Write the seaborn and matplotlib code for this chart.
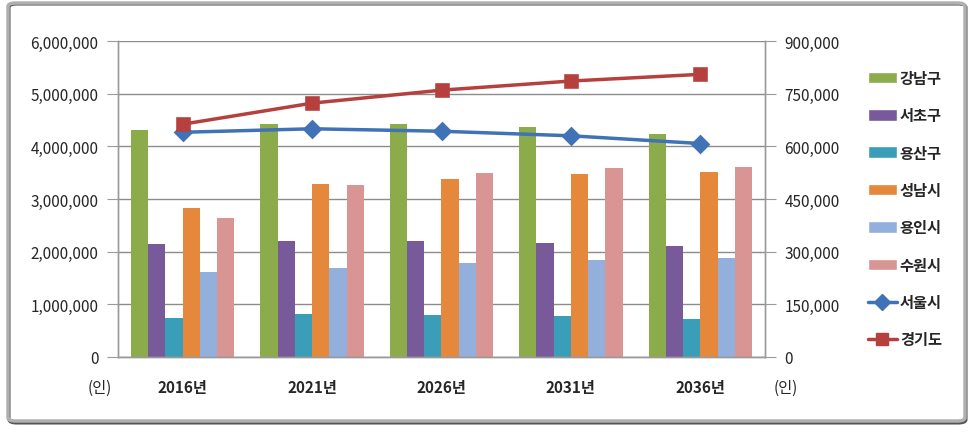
import numpy as np
import pandas as pd
import matplotlib
matplotlib.use("Agg")
import matplotlib.pyplot as plt
from matplotlib.patches import Patch, FancyBboxPatch
from matplotlib.lines import Line2D
from matplotlib.ticker import FuncFormatter
import seaborn as sns

# 데이터
years = ["2016년", "2021년", "2026년", "2031년", "2036년"]
bar_names = ["강남구", "서초구", "용산구", "성남시", "용인시", "수원시"]
gangnam = [4310000, 4430000, 4430000, 4370000, 4230000]
seocho = [2150000, 2210000, 2210000, 2170000, 2110000]
yongsan = [746000, 810000, 790000, 770000, 730000]
seongnam = [2830000, 3280000, 3380000, 3470000, 3510000]
yongin = [1610000, 1690000, 1780000, 1840000, 1880000]
suwon = [2640000, 3260000, 3490000, 3580000, 3610000]
line_names = ["서울시", "경기도"]
seoul = [640000, 650000, 643000, 630000, 608000]
gyeonggi = [663000, 723000, 760000, 786000, 805000]

bar_colors = ["#8CAB4B", "#78599A", "#3A9EB8", "#E6883C", "#93AFDB", "#D99494"]
line_colors = ["#3F72B6", "#B5403D"]

sns.set_style("white")
plt.rcParams["font.family"] = ["Noto Sans CJK KR", "DejaVu Sans"]

bars = pd.DataFrame({
    "year": years * 6,
    "name": np.repeat(bar_names, 5),
    "value": gangnam + seocho + yongsan + seongnam + yongin + suwon,
})
lines = pd.DataFrame({
    "year": years * 2,
    "name": np.repeat(line_names, 5),
    "value": seoul + gyeonggi,
})

fig = plt.figure(figsize=(9.74, 4.35), dpi=100)
ax = fig.add_axes([118 / 974, 77 / 435, 647 / 974, 316 / 435])

sns.barplot(data=bars, x="year", y="value", hue="name", palette=bar_colors,
            width=0.8, saturation=1, legend=False, linewidth=0, ax=ax)
ax.set_ylim(0, 6000000)
ax.set_yticks(np.arange(0, 6000001, 1000000))
ax.yaxis.set_major_formatter(FuncFormatter(lambda v, p: f"{int(v):,}"))
ax.yaxis.grid(True, color="#8c8c8c", lw=1)
ax.set_axisbelow(True)
ax.set_xlabel("")
ax.set_ylabel("")

ax2 = ax.twinx()
sns.pointplot(data=lines, x="year", y="value", hue="name", palette=line_colors,
              markers=["D", "s"], linestyles=["-", "-"], markersize=8,
              linewidth=2.5, legend=False, errorbar=None, ax=ax2)
ax2.set_ylim(0, 900000)
ax2.set_yticks(np.arange(0, 900001, 150000))
ax2.yaxis.set_major_formatter(FuncFormatter(lambda v, p: f"{int(v):,}"))
ax2.set_ylabel("")
ax2.set_xlabel("")

for a in (ax, ax2):
    a.set_xlim(-0.5, 4.5)
    for s in a.spines.values():
        s.set_color("#9a9a9a")
        s.set_linewidth(1)
    a.spines["top"].set_visible(False)

ax.set_xticks(np.arange(-0.5, 5, 1), minor=True)
ax.tick_params(axis="x", which="major", length=0, pad=16, labelsize=11)
ax.tick_params(axis="x", which="minor", length=6, color="#9a9a9a", direction="out")
ax.tick_params(axis="y", length=8, color="#9a9a9a", direction="out", labelsize=11, pad=6)
ax2.tick_params(axis="y", length=8, color="#9a9a9a", direction="out", labelsize=11, pad=6)
for t in ax.get_xticklabels():
    t.set_fontweight("bold")

fig.text(100 / 974, 1 - 388 / 435, "(인)", ha="center", va="center", fontsize=11)
fig.text(786 / 974, 1 - 388 / 435, "(인)", ha="center", va="center", fontsize=11)

handles = [Patch(facecolor=c, label=n) for c, n in zip(bar_colors, bar_names)]
handles += [Line2D([], [], color=c, lw=2.5, marker=m, markersize=8, label=n)
            for c, m, n in zip(line_colors, ["D", "s"], line_names)]
fig.legend(handles=handles, loc="upper left", bbox_to_anchor=(854 / 974, 1 - 57 / 435),
           frameon=False, handlelength=1.9, handleheight=0.8,
           labelspacing=1.4, handletextpad=0.2, prop={"weight": "bold", "size": 11})

# 바깥 테두리
fig.patches.append(FancyBboxPatch((9 / 974, 11 / 435), 957 / 974, 419 / 435,
                                  boxstyle="round,pad=0,rounding_size=0.008",
                                  transform=fig.transFigure, fill=False,
                                  edgecolor="#555555", lw=2.2))
fig.patches.append(FancyBboxPatch((8 / 974, 13 / 435), 957 / 974, 418 / 435,
                                  boxstyle="round,pad=0,rounding_size=0.008",
                                  transform=fig.transFigure, fill=False,
                                  edgecolor="#b0b0b0", lw=2.5))

fig.savefig("out.png", dpi=100)
